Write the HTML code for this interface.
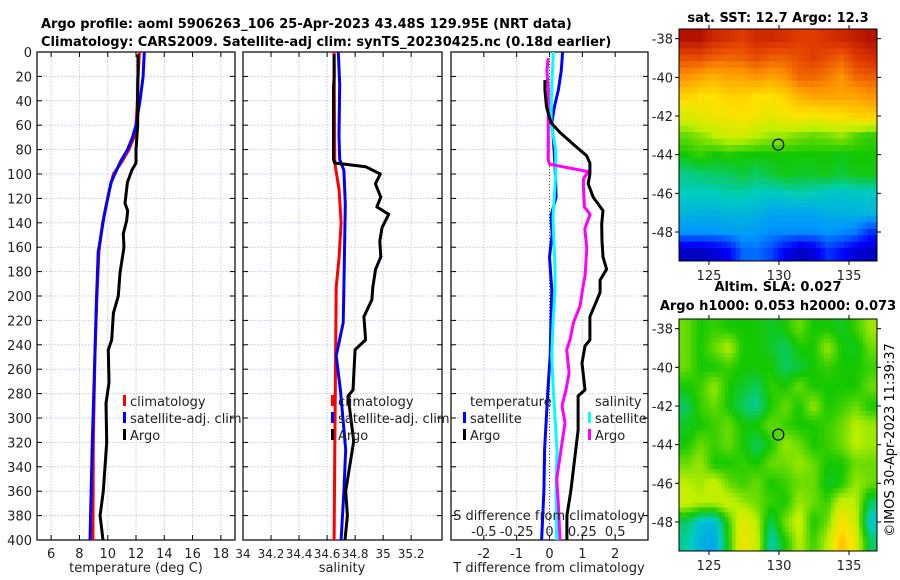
<!DOCTYPE html>
<html><head><meta charset="utf-8"><style>
html,body{margin:0;padding:0;background:#fff;}
svg{display:block;font-family:"DejaVu Sans","Liberation Sans",sans-serif;}
</style></head><body>
<svg id="fig" width="900" height="580" viewBox="0 0 900 580" xmlns="http://www.w3.org/2000/svg">
<text x="41" y="28" font-size="13" font-weight="bold">Argo profile: aoml 5906263_106 25-Apr-2023 43.48S 129.95E (NRT data)</text>
<text x="41" y="46" font-size="13" font-weight="bold">Climatology: CARS2009. Satellite-adj clim: synTS_20230425.nc (0.18d earlier)</text>
<text x="778" y="22" font-size="13" font-weight="bold" text-anchor="middle">sat. SST: 12.7 Argo: 12.3</text>
<text x="778" y="291" font-size="13" font-weight="bold" text-anchor="middle">Altim. SLA: 0.027</text>
<text x="778" y="310" font-size="13" font-weight="bold" text-anchor="middle">Argo h1000: 0.053 h2000: 0.073</text>
<text transform="translate(894,440) rotate(-90)" font-size="13" text-anchor="middle">©IMOS 30-Apr-2023 11:39:37</text>
<g id="g"></g>
</svg>
<script>
// ---- data ----
const depthTicks=[0,20,40,60,80,100,120,140,160,180,200,220,240,260,280,300,320,340,360,380,400];
const tempTicks=[6,8,10,12,14,16,18];
const salTicks=[34,34.2,34.4,34.6,34.8,35,35.2];
const salTickLabels=["34","34.2","34.4","34.6","34.8","35","35.2"];
const tdiffTicks=[-2,-1,0,1,2];
const sdiffTicks=[-0.5,-0.25,0,0.25,0.5];
const sdiffTickLabels=["-0.5","-0.25","0","0.25","0.5"];

const climTdep=[0,20,40,60,70,80,90,100,117,140,164,205,246,320,400];
const climT=[12.24,12.15,12.1,12.0,11.85,11.5,11.0,10.4,10.04,9.64,9.38,9.22,9.1,8.98,8.95];
const satTdep=[0,20,40,60,70,80,90,107,135,164,205,246,320,400];
const satT=[12.59,12.5,12.28,12.0,11.75,11.4,10.9,10.23,9.74,9.33,9.2,9.1,8.91,8.75];
const argoTdep=[2,18,24,60,80,91,97,107,124,130,138,149,160,181,200,214,236,244,271,288,320,360,380,400];
const argoT=[12.14,12.14,12.12,12.12,12.0,12.0,11.7,11.39,11.22,11.41,11.34,11.1,11.15,10.87,10.75,10.4,10.28,10.04,10.09,9.88,9.93,9.69,9.46,9.67];

const climSdep=[0,91,113,140,168,193,260,326,400];
const climS=[34.65,34.655,34.686,34.70,34.686,34.665,34.66,34.655,34.65];
const satSdep=[0,27,68,88,97,125,193,222,249,277,326,360,400];
const satS=[34.68,34.69,34.685,34.69,34.72,34.73,34.72,34.715,34.665,34.695,34.733,34.72,34.70];
const argoSdep=[2,20,30,88,91,94,100,108,119,127,133,144,155,168,178,193,203,217,236,244,277,282,319,360,380,400];
const argoS=[34.65,34.65,34.646,34.646,34.655,34.875,34.98,34.945,34.983,34.955,35.04,34.992,34.976,34.983,34.946,34.926,34.92,34.863,34.875,34.80,34.785,34.75,34.79,34.733,34.745,34.728];

const dTsatDep=[0,15,31,45,58,72,90,100,119,134,150,168,195,249,277,326,360,400];
const dTsat=[0.40,0.36,0.27,0.15,0.07,0.12,0.16,0.18,0.2,0.05,0.08,0.0,0.07,0.02,-0.05,-0.15,-0.17,-0.24];
const dTargoDep=[23,31,45,58,66,77,85,91,100,108,119,130,141,155,168,178,187,197,203,217,236,241,255,277,282,310,360,380,400];
const dTargo=[-0.14,-0.14,-0.09,0.05,0.32,0.78,1.13,1.23,1.23,1.18,1.33,1.63,1.59,1.6,1.63,1.74,1.54,1.54,1.45,1.23,1.23,1.08,0.99,1.08,0.87,0.87,0.65,0.53,0.53];
const dSsatDep=[0,31,58,80,100,136,178,195,222,249,277,326,360,400];
const dSsat=[0.029,0.017,0.011,0.047,0.047,0.027,0.042,0.042,0.027,0.017,0.029,0.057,0.05,0.055];
const dSargoDep=[5,15,30,88,92,98,104,110,127,133,145,161,183,197,208,222,236,244,263,277,290,304,350,370,400];
const dSargo=[-0.01,-0.02,-0.01,-0.01,0.0,0.296,0.258,0.258,0.266,0.309,0.269,0.284,0.271,0.248,0.233,0.182,0.156,0.131,0.149,0.126,0.095,0.118,0.055,0.067,0.08];

const mapLonTicks=[125,130,135];
const mapLatTicks=[-38,-40,-42,-44,-46,-48];
const sstGrid=[
[0.97,0.97,0.93,0.92,0.9,0.93,0.93,0.92,0.9,0.9,0.92,0.93,0.95,0.97],
[0.88,0.88,0.86,0.85,0.86,0.88,0.86,0.86,0.88,0.9,0.88,0.86,0.9,0.92],
[0.8,0.78,0.76,0.78,0.78,0.8,0.78,0.8,0.85,0.85,0.83,0.8,0.85,0.86],
[0.72,0.7,0.7,0.72,0.72,0.7,0.7,0.72,0.76,0.78,0.78,0.78,0.78,0.8],
[0.64,0.66,0.68,0.68,0.7,0.68,0.66,0.68,0.7,0.68,0.7,0.7,0.72,0.72],
[0.55,0.57,0.6,0.63,0.63,0.6,0.58,0.58,0.56,0.55,0.56,0.58,0.54,0.52],
[0.5,0.52,0.5,0.51,0.5,0.5,0.5,0.5,0.5,0.5,0.5,0.49,0.5,0.5],
[0.43,0.44,0.45,0.45,0.47,0.45,0.47,0.49,0.48,0.48,0.49,0.47,0.49,0.49],
[0.4,0.4,0.4,0.41,0.41,0.4,0.39,0.4,0.41,0.4,0.39,0.38,0.39,0.39],
[0.36,0.35,0.35,0.36,0.36,0.35,0.33,0.33,0.33,0.33,0.35,0.35,0.35,0.36],
[0.3,0.3,0.3,0.31,0.32,0.31,0.29,0.29,0.29,0.29,0.3,0.29,0.27,0.2],
[0.08,0.08,0.1,0.14,0.25,0.26,0.22,0.14,0.08,0.1,0.2,0.16,0.1,0.08]];
const slaGrid=[
[.55,.5,.52,.5,.5,.5,.48,.5,.55,.5,.5,.48,.52,.58],
[.55,.5,.55,.6,.5,.5,.48,.45,.5,.5,.58,.5,.48,.55],
[.55,.5,.5,.52,.5,.5,.5,.45,.47,.5,.52,.5,.5,.52],
[.5,.52,.58,.5,.48,.45,.52,.5,.55,.5,.5,.5,.5,.55],
[.45,.52,.55,.5,.45,.42,.5,.55,.5,.58,.5,.52,.55,.5],
[.48,.5,.52,.55,.5,.5,.55,.52,.5,.5,.52,.55,.6,.58],
[.5,.55,.52,.55,.5,.45,.5,.58,.55,.5,.52,.55,.6,.58],
[.55,.58,.5,.5,.52,.5,.55,.55,.58,.55,.5,.5,.55,.55],
[.6,.58,.62,.55,.52,.55,.5,.52,.55,.55,.48,.5,.58,.55],
[.62,.6,.6,.62,.58,.55,.52,.5,.58,.55,.52,.62,.6,.45],
[.45,.38,.36,.52,.66,.6,.45,.56,.62,.5,.55,.7,.62,.38],
[.42,.35,.33,.5,.68,.62,.4,.5,.6,.52,.6,.75,.65,.45]];
const argoLon=[129.95];
const argoLat=[-43.48];

// ---- helpers ----
const NS="http://www.w3.org/2000/svg";
const G=document.getElementById('g');
function mk(tag,attrs){const e=document.createElementNS(NS,tag);for(const k in attrs)e.setAttribute(k,attrs[k]);G.appendChild(e);return e;}
const TOP=52,BOT=540;
const yD=d=>TOP+(d/400)*(BOT-TOP);
function lin(d0,d1,r0,r1){return v=>r0+(v-d0)/(d1-d0)*(r1-r0);}
const P1={x0:37,x1:235},P2={x0:243,x1:442},P3={x0:451,x1:648};
const xT=lin(5,19,P1.x0,P1.x1);
const xS=lin(34,35.42,P2.x0,P2.x1);
const xTd=lin(-3,3,P3.x0,P3.x1);
const xSd=v=>xTd(v*4);

function panel(p,xs,ticks,labels,name,showY,fs){
  ticks.forEach(t=>{const x=xs(t);
    const gl=mk('line',{x1:x,x2:x,y1:TOP,y2:BOT,stroke:'#c6c9e6','stroke-width':1,'stroke-dasharray':'1.5,1.5'});
    
    });
  depthTicks.forEach(d=>{const y=yD(d);
    const gl=mk('line',{x1:p.x0,x2:p.x1,y1:y,y2:y,stroke:'#c6c9e6','stroke-width':1,'stroke-dasharray':'1.5,1.5'});
    
    
    const t1=mk('line',{x1:p.x0,x2:p.x0+5,y1:y,y2:y,stroke:'#000'});
    
    
    const t2=mk('line',{x1:p.x1-5,x2:p.x1,y1:y,y2:y,stroke:'#000'});
    
    
    if(showY){const tl=mk('text',{x:p.x0-5,y:y+5,'font-size':13,'text-anchor':'end',fill:'#222'});tl.textContent=d;
      
      }
  });
  ticks.forEach((t,i)=>{const x=xs(t);
    const a=mk('line',{x1:x,x2:x,y1:BOT,y2:BOT-5,stroke:'#000'});
    
    
    const b=mk('line',{x1:x,x2:x,y1:TOP,y2:TOP+5,stroke:'#000'});
    
    
    if(labels){const tl=mk('text',{x:x,y:BOT+18,'font-size':fs||13,'text-anchor':'middle',fill:'#222'});tl.textContent=labels[i];
      
      }
  });
  const fr=mk('rect',{x:p.x0,y:TOP,width:p.x1-p.x0,height:BOT-TOP,fill:'none',stroke:'#000','stroke-width':1.2});
  
  
}
function series(xs,vals,deps,color,w,name){
  const pts=vals.map((v,i)=>xs(v).toFixed(1)+','+yD(deps[i]).toFixed(1)).join(' ');
  const e=mk('polyline',{points:pts,fill:'none',stroke:color,'stroke-width':w,'stroke-linejoin':'round'});
  
  
}
function legend(x,y,color,label,name){
  const r=mk('rect',{x:x,y:y-11,width:3,height:11,fill:color});
  
  
  const t=mk('text',{x:x+7,y:y,'font-size':13,fill:'#222'});t.textContent=label;
  
  
}
function text(x,y,s,anchor,name,fs){const t=mk('text',{x:x,y:y,'font-size':fs||13,'text-anchor':anchor,fill:'#222'});t.textContent=s;
  
  }

// panel 1
panel(P1,xT,tempTicks,tempTicks.map(String),'temp-panel',true);
series(xT,climT,climTdep,'#ff0000',3,'temp-climatology-line');
series(xT,satT,satTdep,'#0000ff',3,'temp-satellite-line');
series(xT,argoT,argoTdep,'#000',3,'temp-argo-line');
text(136,572,'temperature (deg C)','middle','temp-x-axis-title');
legend(123,406,'#ff0000','climatology','legend-climatology');
legend(123,423,'#0000ff','satellite-adj. clim','legend-satellite-adj');
legend(123,440,'#000','Argo','legend-argo');

// panel 2
panel(P2,xS,salTicks,salTickLabels,'sal-panel',false,12);
series(xS,climS,climSdep,'#ff0000',3,'sal-climatology-line');
series(xS,satS,satSdep,'#0000ff',3,'sal-satellite-line');
series(xS,argoS,argoSdep,'#000',3,'sal-argo-line');
text(342,572,'salinity','middle','sal-x-axis-title');
legend(331,406,'#ff0000','climatology','legend2-climatology');
legend(331,423,'#0000ff','satellite-adj. clim','legend2-satellite-adj');
legend(331,440,'#000','Argo','legend2-argo');

// panel 3
panel(P3,xTd,tdiffTicks,tdiffTicks.map(String),'diff-panel',false);
{const z=mk('line',{x1:xTd(0),x2:xTd(0),y1:TOP,y2:BOT,stroke:'#555533','stroke-width':1,'stroke-dasharray':'1,2'});

}
series(xTd,dTsat,dTsatDep,'#0000ff',3,'tdiff-satellite-line');
series(xSd,dSsat,dSsatDep,'#00ffff',3,'sdiff-satellite-line');
series(xSd,dSargo,dSargoDep,'#ff00ff',3,'sdiff-argo-line');
series(xTd,dTargo,dTargoDep,'#000',3,'tdiff-argo-line');
text(549,572,'T difference from climatology','middle','tdiff-x-axis-title');
text(549,520,'S difference from climatology','middle','sdiff-axis-title');
sdiffTicks.forEach((t,i)=>text(xSd(t),536,sdiffTickLabels[i],'middle','sdiff-tick-label'));
text(470,406,'temperature','start','legend-temperature-header');
text(595,406,'salinity','start','legend-salinity-header');
legend(463,423,'#0000ff','satellite','legend-t-satellite');
legend(463,440,'#000','Argo','legend-t-argo');
legend(588,423,'#00ffff','satellite','legend-s-satellite');
legend(588,440,'#ff00ff','Argo','legend-s-argo');

// maps
const cmapStops=[[0,0,0,130],[0.15,0,0,255],[0.3,0,150,255],[0.4,0,205,190],[0.5,20,200,0],[0.6,190,240,0],[0.7,255,225,0],[0.8,255,150,0],[0.9,225,60,0],[1,160,0,0]];
function cmap(v){v=Math.max(0,Math.min(1,v));
  for(let i=1;i<cmapStops.length;i++){const a=cmapStops[i-1],b=cmapStops[i];
    if(v<=b[0]){const f=(v-a[0])/(b[0]-a[0]);
      return `rgb(${Math.round(a[1]+f*(b[1]-a[1]))},${Math.round(a[2]+f*(b[2]-a[2]))},${Math.round(a[3]+f*(b[3]-a[3]))})`;}}
  return 'rgb(160,0,0)';}
function sample(grid,fy,fx){
  const rows=grid.length,cols=grid[0].length;
  let y=Math.max(0,Math.min(rows-1,fy)),x=Math.max(0,Math.min(cols-1,fx));
  const y0=Math.floor(y),x0=Math.floor(x),y1=Math.min(rows-1,y0+1),x1=Math.min(cols-1,x0+1);
  const ty=y-y0,tx=x-x0;
  return (grid[y0][x0]*(1-tx)+grid[y0][x1]*tx)*(1-ty)+(grid[y1][x0]*(1-tx)+grid[y1][x1]*tx)*ty;
}
function map(y0,grid,name,sub){
  const X0=679,X1=877,Y1=y0+232;
  const xL=lin(122.86,137,X0,X1), yL=lin(-37.5,-49.5,y0,Y1);
  const rows=grid.length,cols=grid[0].length;
  const cw=(X1-X0)/cols/sub,ch=(Y1-y0)/rows/sub;
  for(let i=0;i<rows*sub;i++)for(let j=0;j<cols*sub;j++){
    const v=sample(grid,(i+0.5)/sub-0.5,(j+0.5)/sub-0.5);
    const c=mk('rect',{x:(X0+j*cw).toFixed(2),y:(y0+i*ch).toFixed(2),width:(cw+0.5).toFixed(2),height:(ch+0.5).toFixed(2),fill:cmap(v)});
    
    
  }
  const fr=mk('rect',{x:X0,y:y0,width:X1-X0,height:Y1-y0,fill:'none',stroke:'#000','stroke-width':1});
  
  
  mapLonTicks.forEach(t=>{const x=xL(t);
    const a=mk('line',{x1:x,x2:x,y1:Y1,y2:Y1+4,stroke:'#000'});
    
    
    const b=mk('line',{x1:x,x2:x,y1:y0,y2:y0-4,stroke:'#000'});
    
    
    text(x,Y1+19,String(t),'middle',name+'-lon-label');});
  mapLatTicks.forEach(t=>{const y=yL(t);
    const a=mk('line',{x1:X0-4,x2:X0,y1:y,y2:y,stroke:'#000'});
    
    
    const b=mk('line',{x1:X1,x2:X1+4,y1:y,y2:y,stroke:'#000'});
    
    
    text(X0-6,y+5,String(t),'end',name+'-lat-label');});
  const c=mk('circle',{cx:xL(argoLon[0]),cy:yL(argoLat[0]),r:5.5,fill:'none',stroke:'#000','stroke-width':1.2});
  
  
}
map(29,sstGrid,'sst-map',3);
map(319,slaGrid,'sla-map',4);
</script>
</body></html>
